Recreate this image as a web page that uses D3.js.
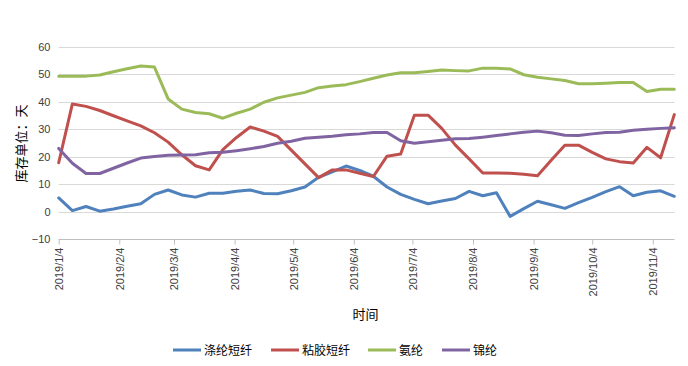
<!DOCTYPE html>
<html><head><meta charset="utf-8">
<script src="https://cdn.jsdelivr.net/npm/d3@7"></script>
<style>
html,body{margin:0;padding:0;background:#fff;}
svg{display:block;font-family:"Liberation Sans","Noto Sans CJK SC",Arial,sans-serif;}
</style></head>
<body><svg id="c" width="688" height="366"></svg>
<script>
const startDate = "2019-01-04";
const weeks = 46;
const seriesNames = ["涤纶短纤","粘胶短纤","氨纶","锦纶"];
const seriesColors = ["#4F81BD","#C0504D","#9BBB59","#8064A2"];
const polyester = [5.0,0.4,1.9,0.2,1.0,2.0,2.9,6.3,7.9,6.1,5.3,6.7,6.7,7.4,7.9,6.6,6.5,7.6,9.0,12.5,14.5,16.6,15.0,12.9,9.0,6.3,4.5,2.9,3.9,4.8,7.4,5.8,6.9,-1.7,1.1,3.8,2.5,1.2,3.3,5.2,7.3,9.1,5.8,7.1,7.6,5.6];
const viscose = [17.8,39.2,38.3,36.8,34.9,33.0,31.2,28.7,25.3,20.7,16.7,15.2,22.6,27.0,30.8,29.3,27.4,22.4,17.4,12.4,15.2,15.2,14.0,12.8,20.2,21.0,35.1,35.1,30.3,24.2,19.2,14.1,14.1,14.0,13.6,13.1,18.7,24.2,24.2,21.6,19.2,18.2,17.7,23.4,19.6,35.3];
const spandex = [49.3,49.3,49.3,49.7,50.9,52.0,53.0,52.6,41.0,37.3,36.1,35.6,34.0,35.8,37.3,39.8,41.4,42.4,43.4,45.1,45.7,46.2,47.3,48.5,49.7,50.5,50.5,51.0,51.5,51.3,51.2,52.2,52.2,51.9,49.8,48.9,48.3,47.7,46.5,46.5,46.7,47.0,47.0,43.7,44.5,44.5];
const nylon = [23.0,17.6,13.9,13.9,15.8,17.7,19.5,20.1,20.5,20.6,20.7,21.4,21.6,22.2,22.9,23.7,24.9,25.6,26.7,27.1,27.4,28.0,28.3,28.8,28.8,25.8,24.9,25.4,26.0,26.5,26.6,27.1,27.7,28.3,28.9,29.3,28.7,27.8,27.7,28.3,28.8,28.9,29.6,30.0,30.3,30.5];
const yTicks = [-10,0,10,20,30,40,50,60];
const xTickLabels = ["2019/1/4","2019/2/4","2019/3/4","2019/4/4","2019/5/4","2019/6/4","2019/7/4","2019/8/4","2019/9/4","2019/10/4","2019/11/4"];
const yTitle = "库存单位：天";
const xTitle = "时间";

const parse = d3.timeParse("%Y-%m-%d");
const t0 = parse(startDate);
const dates = d3.range(weeks).map(i => d3.timeDay.offset(t0, i*7));
const allSeries = [polyester, viscose, spandex, nylon];
const tickDates = xTickLabels.map(s => d3.timeParse("%Y/%m/%d")(s));

const svg = d3.select("#c");
const x = d3.scaleTime().domain([dates[0], dates[weeks-1]]).range([58.7, 674.3]);
const y = d3.scaleLinear().domain([-10, 60]).range([239.2, 46.7]);

// gridlines
svg.append("g").selectAll("line").data(yTicks.filter(v=>v>-10)).join("line")
  .attr("x1", 58.5).attr("x2", 674.5)
  .attr("y1", d=>Math.round(y(d))+0.5).attr("y2", d=>Math.round(y(d))+0.5)
  .attr("stroke", "#d9d9d9").attr("stroke-width", 1);

// y axis labels
const yAxis = d3.axisLeft(y).tickValues(yTicks).tickSize(0).tickPadding(8);
const gy = svg.append("g").attr("transform","translate(58.5,0)").call(yAxis);
gy.select(".domain").remove();
gy.selectAll("text").attr("font-size", 11).attr("fill", "#404040")
  .attr("font-family","Liberation Sans, Arial, sans-serif");

// x axis
const xAxis = d3.axisBottom(x).tickValues(tickDates).tickSize(5).tickSizeOuter(0)
  .tickFormat((d,i) => xTickLabels[i]);
const gx = svg.append("g").attr("transform", `translate(0,${Math.round(y(-10))+0.5})`).call(xAxis);
gx.select(".domain").attr("stroke", "#bfbfbf").attr("d", `M58.5,0H674.5`);
gx.selectAll(".tick line").attr("stroke", "#bfbfbf");
gx.selectAll(".tick text").attr("font-size", 11).attr("fill", "#404040")
  .attr("font-family","Liberation Sans, Arial, sans-serif")
  .attr("text-anchor", "end").attr("transform", "rotate(-90)")
  .attr("x", -8).attr("y", 0).attr("dy", "0.35em");

// lines
const line = d3.line().x((d,i)=>x(dates[i])).y(d=>y(d));
allSeries.forEach((s,k) => {
  svg.append("path").datum(s).attr("d", line).attr("fill","none")
    .attr("stroke", seriesColors[k]).attr("stroke-width", 3)
    .attr("stroke-linejoin","round").attr("stroke-linecap","round");
});

// titles
svg.append("text").attr("transform","translate(26,143.5) rotate(-90)")
  .attr("text-anchor","middle").attr("font-size",13).attr("fill","#000")
  .attr("font-family","Noto Sans CJK SC, sans-serif").text(yTitle);
svg.append("text").attr("x",365.5).attr("y",319).attr("text-anchor","middle")
  .attr("font-size",13).attr("fill","#000")
  .attr("font-family","Noto Sans CJK SC, sans-serif").text(xTitle);

// legend
const legX = [173, 271, 368, 442];
const lg = svg.append("g");
seriesNames.forEach((n,k) => {
  lg.append("line").attr("x1", legX[k]).attr("x2", legX[k]+28)
    .attr("y1", 350).attr("y2", 350).attr("stroke", seriesColors[k]).attr("stroke-width", 3);
  lg.append("text").attr("x", legX[k]+31).attr("y", 354.5).attr("font-size", 12)
    .attr("fill","#000").attr("font-family","Noto Sans CJK SC, sans-serif").text(n);
});
</script></body></html>
